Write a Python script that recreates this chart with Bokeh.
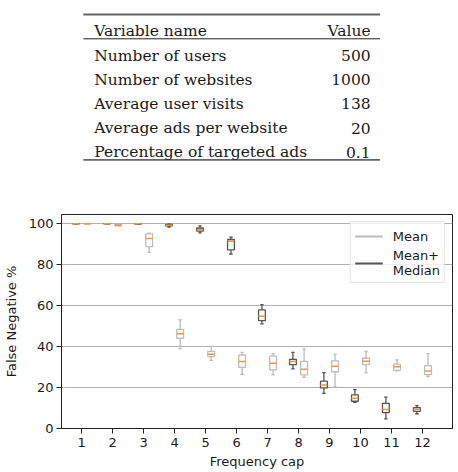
import numpy as np
from bokeh.plotting import figure
from bokeh.layouts import column
from bokeh.models import Range1d, FixedTicker, Legend, LegendItem, ColumnDataSource
from bokeh.core.properties import value
from bokeh.embed import file_html
from bokeh.resources import INLINE

# ---- simulation parameters table ----
param_names = ["Number of users", "Number of websites", "Average user visits",
               "Average ads per website", "Percentage of targeted ads"]
param_values = ["500", "1000", "138", "20", "0.1"]

# ---- false negative rate per frequency cap ----
caps = [1, 2, 3, 4, 5, 6, 7, 8, 9, 10, 11, 12]
cap_labels = [str(c) for c in caps]

# "Mean" strategy
mean_lo = [99.9, 98.9, 86.0, 39.0, 33.3, 26.5, 26.2, 25.0, 20.3, 27.2, 28.1, 25.4]
mean_q1 = [99.95, 99.0, 88.8, 44.0, 35.1, 29.9, 28.6, 26.2, 27.7, 31.2, 28.4, 26.3]
mean_med = [100, 99.3, 92.8, 46.3, 36.2, 32.7, 31.9, 28.9, 30.4, 32.8, 30.1, 28.1]
mean_q3 = [100, 99.6, 95.0, 48.4, 37.7, 35.9, 35.3, 32.8, 33.0, 34.3, 31.4, 30.7]
mean_hi = [100, 99.7, 95.4, 53.0, 40.1, 37.2, 36.4, 38.9, 36.3, 37.6, 33.5, 36.6]

# "Mean+Median" strategy
mm_lo = [99.9, 99.9, 99.7, 98.4, 95.5, 85.2, 51.1, 29.1, 17.2, 12.8, 4.7, 7.2]
mm_q1 = [99.95, 99.95, 99.8, 98.9, 96.4, 87.2, 52.7, 31.2, 19.8, 13.3, 7.8, 8.4]
mm_med = [100, 100, 100, 99.3, 97.1, 91.4, 54.8, 32.7, 21.3, 14.8, 9.3, 9.4]
mm_q3 = [100, 100, 100, 99.6, 97.9, 92.3, 57.9, 33.8, 23.1, 16.4, 12.3, 10.2]
mm_hi = [100, 100, 100, 99.9, 98.9, 93.5, 60.5, 37.2, 27.3, 19.0, 15.3, 11.2]

W = 458
TABLE_H = 185
PLOT_H = 472 - TABLE_H
BORDER_L, BORDER_R = 58, 6

SERIF = value("DejaVu Serif")
SANS = "DejaVu Sans"

# ---------------- table ----------------
# same side borders as the chart below, so x data units equal page pixels
t = figure(width=W, height=TABLE_H, x_range=Range1d(BORDER_L, W - BORDER_R),
           y_range=Range1d(TABLE_H, 0), output_backend="svg", toolbar_location=None,
           min_border_left=BORDER_L, min_border_right=BORDER_R,
           min_border_top=0, min_border_bottom=0)
t.axis.visible = False
t.grid.visible = False
t.outline_line_color = None

left_x, right_x = 80, 379
text_l, text_r = 91, 369.5
header_base = 30.7
row_base0, row_step = 55.0, 24.2

t.segment(x0=[left_x], y0=[14], x1=[right_x], y1=[14], line_color="#666666", line_width=1.8)
t.segment(x0=[left_x], y0=[38.3], x1=[right_x], y1=[38.3], line_color="#222222", line_width=1)
t.segment(x0=[left_x], y0=[159.3], x1=[right_x], y1=[159.3], line_color="#666666", line_width=1.8)

FS = "15.5px"
t.text(x=[text_l], y=[header_base], text=["Variable name"], text_font=SERIF,
       text_font_size=FS, text_color="#1a1a1a", text_baseline="alphabetic", text_align="left")
t.text(x=[text_r], y=[header_base], text=["Value"], text_font=SERIF,
       text_font_size=FS, text_color="#1a1a1a", text_baseline="alphabetic", text_align="right")
row_y = [row_base0 + i * row_step for i in range(len(param_names))]
t.text(x=[text_l] * len(param_names), y=row_y, text=param_names, text_font=SERIF,
       text_font_size=FS, text_color="#1a1a1a", text_baseline="alphabetic", text_align="left")
t.text(x=[text_r] * len(param_values), y=row_y, text=param_values, text_font=SERIF,
       text_font_size=FS, text_color="#1a1a1a", text_baseline="alphabetic", text_align="right")

# ---------------- box plot ----------------
p = figure(width=W, height=PLOT_H, x_range=Range1d(0.35, 12.97), y_range=Range1d(0, 104.5),
           output_backend="svg", toolbar_location=None,
           min_border_left=BORDER_L, min_border_right=BORDER_R,
           min_border_top=29, min_border_bottom=44)

LIGHT = "#bdbdbd"
DARK = "#555555"
ORANGE = "#f5953b"
offset, box_w, cap_w = 0.18, 0.22, 0.11


def draw_boxes(xc, lo, q1, med, q3, hi, color):
    xs = np.array(xc, dtype=float)
    src = ColumnDataSource(dict(x=xs, lo=lo, q1=q1, med=med, q3=q3, hi=hi,
                                xl=xs - cap_w / 2, xr=xs + cap_w / 2,
                                bl=xs - box_w / 2, br=xs + box_w / 2))
    p.segment(x0="x", y0="lo", x1="x", y1="q1", source=src, line_color=color, line_width=1.3)
    p.segment(x0="x", y0="q3", x1="x", y1="hi", source=src, line_color=color, line_width=1.3)
    p.segment(x0="xl", y0="lo", x1="xr", y1="lo", source=src, line_color=color, line_width=1.3)
    p.segment(x0="xl", y0="hi", x1="xr", y1="hi", source=src, line_color=color, line_width=1.3)
    p.vbar(x="x", bottom="q1", top="q3", width=box_w, source=src,
           fill_color="white", line_color=color, line_width=1.3)
    p.segment(x0="bl", y0="med", x1="br", y1="med", source=src, line_color=ORANGE, line_width=1.5)


draw_boxes(np.array(caps) - offset, mm_lo, mm_q1, mm_med, mm_q3, mm_hi, DARK)
draw_boxes(np.array(caps) + offset, mean_lo, mean_q1, mean_med, mean_q3, mean_hi, LIGHT)

# legend swatches (single NaN point: nothing drawn in the frame)
leg_light = p.line(x=[np.nan], y=[np.nan], line_color=LIGHT, line_width=2)
leg_dark = p.line(x=[np.nan], y=[np.nan], line_color=DARK, line_width=2)
legend = Legend(items=[LegendItem(label="Mean", renderers=[leg_light]),
                       LegendItem(label="Mean+\nMedian", renderers=[leg_dark])],
                location="top_right", margin=7, padding=4, spacing=2,
                glyph_width=28, label_standoff=10,
                label_text_font=SANS, label_text_font_size="13px", label_text_color="#1a1a1a",
                label_text_line_height=1.0,
                background_fill_color="white", background_fill_alpha=0.8,
                border_line_color="#cccccc", border_line_width=1)
p.add_layout(legend)

p.xaxis.ticker = FixedTicker(ticks=caps)
p.xaxis.major_label_overrides = {c: l for c, l in zip(caps, cap_labels)}
p.yaxis.ticker = FixedTicker(ticks=[0, 20, 40, 60, 80, 100])
p.xaxis.axis_label = "Frequency cap"
p.yaxis.axis_label = "False Negative %"
for ax in (p.xaxis, p.yaxis):
    ax.axis_label_text_font = SANS
    ax.axis_label_text_font_size = "13px"
    ax.axis_label_text_font_style = "normal"
    ax.axis_label_text_color = "#1a1a1a"
    ax.major_label_text_font = SANS
    ax.major_label_text_font_size = "13px"
    ax.major_label_text_color = "#1a1a1a"
    ax.minor_tick_line_color = None
    ax.major_tick_in = 0
    ax.major_tick_out = 5
    ax.major_tick_line_color = "#222222"
    ax.axis_line_color = "#222222"
p.yaxis.major_label_standoff = 3
p.yaxis.axis_label_standoff = 7
p.xaxis.major_label_standoff = 4
p.xaxis.axis_label_standoff = 4

p.xgrid.visible = False
p.ygrid.grid_line_color = "#b0b0b0"
p.ygrid.grid_line_width = 1
p.outline_line_color = "#222222"
p.outline_line_width = 1

layout = column(t, p, spacing=0)
open("out.html", "w").write(file_html(layout, INLINE))
